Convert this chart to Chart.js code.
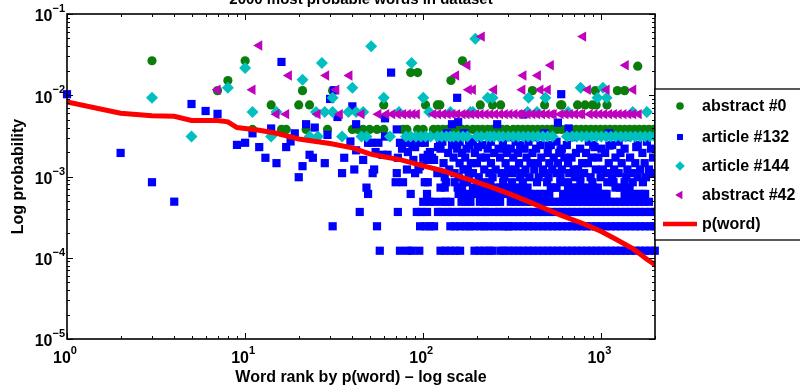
<!DOCTYPE html>
<html>
<head>
<meta charset="utf-8">
<script src="https://cdn.jsdelivr.net/npm/chart.js@4.4.0/dist/chart.umd.min.js"></script>
<style>
  html, body { margin: 0; padding: 0; background: #fff; }
  canvas { display: block; }
</style>
</head>
<body>
<canvas id="chart" width="800" height="390"></canvas>
<script>
// ── TEXT & AXES ─────────────────────────────────────
const TITLE = '2000 most probable words in dataset';
const X_TITLE = 'Word rank by p(word) \u2013 log scale';
const Y_TITLE = 'Log probability';
const X_MIN = 1, X_MAX = 2000;
const Y_MIN = 1e-5, Y_MAX = 1e-1;
const X_TICKS = [1, 10, 100, 1000];
const X_TICK_EXP = ['0', '1', '2', '3'];
const Y_TICKS = [1e-5, 1e-4, 1e-3, 1e-2, 1e-1];
const Y_TICK_EXP = ['\u22125', '\u22124', '\u22123', '\u22122', '\u22121'];
const MINOR = [2, 3, 4, 5, 6, 7, 8, 9];
const SERIES_NAMES = ['abstract #0', 'article #132', 'article #144', 'abstract #42', 'p(word)'];

// ── p(word) curve ───────────────────────────────────
const PWORD_RANK = [1, 2, 3, 4, 5, 7, 8, 9, 10, 12, 15, 20, 25, 30, 40, 50, 60, 75, 100, 130, 160, 200, 250, 300, 400, 500, 600, 800, 1000, 1200, 1500, 1800, 2000];
const PWORD_PROB = [8.3e-3, 6.0e-3, 5.6e-3, 5.5e-3, 4.9e-3, 4.9e-3, 4.7e-3, 4.0e-3, 3.9e-3, 3.7e-3, 3.4e-3, 2.9e-3, 2.7e-3, 2.55e-3, 2.25e-3, 1.9e-3, 1.75e-3, 1.6e-3, 1.35e-3, 1.17e-3, 1.0e-3, 8.5e-4, 7.2e-4, 6.2e-4, 4.8e-4, 3.9e-4, 3.3e-4, 2.6e-4, 2.1e-4, 1.7e-4, 1.3e-4, 9.6e-5, 8.2e-5];

// ── abstract #0 (green) ─────────────────────────────
const ABS0_POINTS = [
  [3, 2.66e-2], [10, 2.66e-2], [166, 2.66e-2], [1600, 2.28e-2], [85, 1.9e-2], [93, 1.9e-2],
  [8, 1.52e-2], [143, 1.52e-2],
  [7, 1.14e-2], [21, 1.14e-2], [31, 1.14e-2], [410, 1.14e-2], [925, 1.14e-2], [1230, 1.14e-2], [1350, 1.14e-2],
  [14, 7.6e-3], [20, 7.6e-3], [23, 7.6e-3], [60, 7.6e-3], [103, 7.6e-3], [120, 7.6e-3], [124, 7.6e-3],
  [209, 7.6e-3], [245, 7.6e-3], [272, 7.6e-3], [480, 7.6e-3], [590, 7.6e-3], [600, 7.6e-3], [735, 7.6e-3],
  [810, 7.6e-3], [890, 7.6e-3], [935, 7.6e-3], [1075, 7.6e-3]
];
const ABS0_BAND_PROB = 3.8e-3;
const ABS0_BAND_RANKS = [11, 16, 17, 22, 29, 40, 43, 46, 50, 55, 60, 77, 81, 93, 100, 114, 121, 129, 137, 146, 155, 165, 176, 190, 202, 215, 230, 245, 260, 277, 295, 320, 340, 362, 386, 411, 438, 466, 496, 528, 562, 598, 637, 678, 722, 769, 819, 872, 928, 988, 1052, 1120, 1193, 1270, 1352, 1440, 1533, 1632, 1738, 1850, 1970];

// ── article #132 (blue) ─────────────────────────────
const A132_POINTS = [
  [1, 1.03e-2], [2, 1.95e-3], [3, 8.5e-4], [4, 4.9e-4], [5, 7.8e-3], [6, 6.4e-3], [7, 5.9e-3],
  [9, 2.45e-3], [10, 2.6e-3], [11, 3.4e-3], [12, 2.3e-3], [13, 1.7e-3], [14, 3.9e-3], [15, 1.46e-3],
  [16, 2.57e-2], [17, 2.3e-3], [18, 2.7e-3], [19, 3.4e-3], [20, 9.8e-4], [21, 1.34e-3], [22, 4.4e-3],
  [23, 1.85e-3], [24, 1.7e-3], [24.6, 4.0e-3], [28, 1.46e-3], [29, 3.25e-3], [30, 9.0e-3],
  [31.5, 1.15e-2], [33, 5.4e-3], [35, 1.1e-3], [36, 1.7e-3], [39, 2.7e-3], [40, 7.3e-3], [41, 1.22e-3],
  [42, 2.1e-3], [42, 4.4e-3], [46, 1.6e-3], [49, 2.6e-3], [51, 2.6e-3], [52, 1.1e-3], [53, 1.22e-3],
  [54, 2.0e-3], [56, 2.6e-3], [59, 1.85e-3], [61, 5.2e-3], [61, 3.1e-3], [63, 1.85e-3], [66, 1.9e-2],
  [70, 8.5e-4], [71, 1.1e-3], [71, 3.8e-3], [72, 1.7e-3], [74, 2.6e-3], [76, 2.2e-3], [77, 8.5e-4],
  [79, 2.6e-3], [81, 1.22e-3], [82, 2.0e-3], [86, 2.6e-3], [87, 2.4e-3], [88, 1.6e-3], [90, 2.3e-3],
  [90, 1.1e-3], [94, 1.22e-3], [96, 1.34e-3], [96, 2.6e-3], [100, 1.7e-3], [102, 8.5e-4], [102, 2.6e-3],
  [105, 1.6e-3], [106, 1.85e-3], [106, 8.5e-4], [109, 2.0e-3], [112, 1.7e-3], [115, 1.6e-3], [120, 1.1e-3],
  [121, 2.3e-3], [124, 2.6e-3],
  [136, 3.4e-3], [145, 4.4e-3], [155, 9.3e-3], [157, 4.7e-3], [181, 2.8e-3], [203, 2.3e-3], [260, 4.4e-3],
  [290, 2.2e-3], [365, 5.8e-3], [505, 2.4e-3], [570, 4.6e-3], [590, 2.1e-3], [595, 1.03e-2], [655, 3.9e-3],
  [915, 2.3e-3], [1110, 2.4e-3], [1570, 2.3e-3]
];
// count levels (1 word = 1.22e-4) and the ranks found on each level
const A132_LEVELS = [1.22e-4, 2.44e-4, 3.66e-4, 4.88e-4, 6.1e-4, 7.3e-4, 8.5e-4, 9.8e-4, 1.1e-3, 1.22e-3, 1.46e-3, 1.71e-3, 1.95e-3, 2.2e-3, 2.44e-3, 2.68e-3, 3.05e-3, 3.4e-3];
const A132_LEVEL_RANKS = [
  [57, 74, 82, 86, 95, 125, 133, 142, 151, 161, 194, 207, 220, 235, 245, 272, 283, 302, 321, 342, 364, 388, 413, 440, 469, 499, 532, 566, 603, 642, 684, 728, 776, 826, 880, 937, 998, 1063, 1132, 1205, 1284, 1367, 1456, 1550, 1651, 1758, 1872, 1994],
  [31, 55, 96, 103, 109, 115, 142, 151, 161, 173, 182, 194, 210, 220, 235, 250, 266, 283, 296, 302, 321, 342, 364, 388, 413, 440, 469, 499, 532, 566, 603, 642, 684, 728, 776, 826, 880, 937, 998, 1063, 1132, 1205, 1284, 1367, 1456, 1550, 1651, 1758, 1872, 1994],
  [44, 72, 92, 97, 105, 121, 127, 137, 144, 158, 166, 175, 186, 198, 210, 222, 230, 253, 266, 283, 302, 321, 342, 364, 388, 413, 440, 469, 499, 532, 566, 603, 642, 684, 728, 776, 826, 880, 937, 998, 1063, 1132, 1205, 1284, 1367, 1456, 1550, 1651, 1758, 1872, 1994],
  [100, 109, 115, 127, 134, 142, 164, 173, 184, 208, 220, 235, 245, 258, 270, 310, 330, 352, 375, 400, 426, 454, 484, 516, 550, 586, 624, 665, 700, 735, 783, 834, 880, 915, 950, 985, 1050, 1118, 1190, 1268, 1350, 1438, 1532, 1632, 1738, 1850],
  [49, 85, 105, 158, 168, 178, 190, 202, 215, 228, 242, 258, 275, 292, 310, 335, 355, 378, 400, 425, 452, 480, 510, 610, 645, 685, 725, 770, 815, 865, 915, 970, 1030, 1070, 1350, 1430, 1520, 1610, 1700, 1760],
  [48, 125, 132, 156, 165, 190, 200, 212, 225, 240, 255, 270, 288, 305, 325, 345, 365, 385, 520, 545, 560, 650, 680, 715, 750, 790, 850, 900, 955, 1200, 1270, 1350, 1440],
  [134, 150, 168, 176, 216, 238, 281, 315, 362, 435, 496, 588, 650, 762, 890, 1080, 1170, 1350, 1500, 1710],
  [132, 158, 180, 205, 245, 285, 350, 395, 445, 505, 590, 710, 760, 870, 990, 1150, 1380, 1600, 1780],
  [150, 190, 235, 275, 315, 360, 480, 560, 660, 800, 1080, 1250, 1500, 1900],
  [140, 168, 178, 220, 255, 300, 330, 375, 420, 470, 530, 600, 700, 740, 930, 1020, 1180, 1400, 1650, 1850],
  [130, 160, 185, 200, 240, 290, 345, 400, 440, 510, 570, 650, 780, 840, 1100, 1300, 1550, 1750],
  [148, 172, 210, 225, 270, 320, 380, 460, 540, 620, 680, 880, 960, 1200, 1450, 1950],
  [138, 165, 195, 250, 295, 340, 410, 500, 580, 720, 820, 1050, 1280, 1700],
  [125, 155, 175, 230, 265, 310, 370, 430, 600, 760, 1000, 1350, 1900],
  [145, 182, 215, 280, 350, 455, 520, 640, 900, 1150, 1600],
  [128, 160, 190, 240, 330, 390, 560, 850, 1250, 1800],
  [150, 205, 300, 420, 700, 1400],
  [170, 480, 1100]
];

// ── article #144 (cyan) ─────────────────────────────
const A144_POINTS = [
  [196, 4.96e-2], [51, 4.0e-2], [27, 2.5e-2], [86, 2.5e-2], [10, 2.17e-2], [21, 1.55e-2],
  [8, 1.24e-2], [40, 1.24e-2], [765, 1.24e-2], [1020, 1.24e-2],
  [3, 9.3e-3], [31, 9.3e-3], [60, 9.3e-3], [100, 9.3e-3], [230, 9.3e-3], [245, 9.3e-3], [390, 9.3e-3],
  [485, 9.3e-3], [950, 9.3e-3], [1070, 9.3e-3],
  [11, 6.2e-3], [15, 6.2e-3], [25, 6.2e-3], [28, 6.2e-3], [31, 6.2e-3], [38, 6.2e-3], [42, 6.2e-3],
  [46, 6.2e-3], [73, 6.2e-3], [108, 6.2e-3], [142, 6.2e-3], [184, 6.2e-3], [190, 6.2e-3], [385, 6.2e-3],
  [435, 6.2e-3], [650, 6.2e-3], [1500, 6.2e-3], [1800, 6.2e-3]
];
const A144_BAND_PROB = 3.1e-3;
const A144_BAND_RANKS = [5, 14, 23, 25.6, 35, 45, 48, 65, 80, 85, 91, 97, 103, 110, 120, 127, 135, 142, 148, 157, 167, 177, 200, 212, 228, 238, 250, 266, 280, 300, 320, 342, 364, 388, 413, 440, 469, 499, 532, 640, 684, 728, 776, 826, 880, 937, 998, 1063, 1132, 1205, 1284, 1367, 1456, 1550, 1651, 1758, 1872, 1994];

// ── abstract #42 (magenta) ──────────────────────────
const ABS42_POINTS = [
  [213, 5.27e-2], [790, 5.27e-2], [12, 4.1e-2],
  [177, 2.34e-2], [520, 2.34e-2], [1370, 2.34e-2],
  [17.6, 1.75e-2], [28.5, 1.75e-2], [38.5, 1.75e-2], [153, 1.75e-2], [365, 1.75e-2], [440, 1.75e-2],
  [7, 1.17e-2], [11, 1.17e-2], [32.5, 1.17e-2], [180, 1.17e-2], [190, 1.17e-2], [250, 1.17e-2],
  [360, 1.17e-2], [455, 1.17e-2], [500, 1.17e-2], [840, 1.17e-2], [1070, 1.17e-2], [1510, 1.17e-2]
];
const ABS42_BAND_PROB = 5.85e-3;
const ABS42_BAND_RANKS = [15, 17, 25.5, 34, 45, 56, 62, 67, 72, 77, 82, 87, 92, 114, 121, 129, 137, 146, 155, 166, 175, 186, 198, 210, 224, 238, 253, 270, 287, 305, 325, 346, 360, 385, 410, 436, 464, 494, 525, 540, 590, 628, 668, 711, 757, 780, 860, 915, 974, 1037, 1104, 1175, 1251, 1332, 1418, 1509, 1620];

// ── styles ──────────────────────────────────────────
const COLORS = ['#0b7d0b', '#0000ff', '#00bfbf', '#bf00bf', '#ff0000'];
const FONT = '"Liberation Sans", Arial, sans-serif';

const pts = arr => arr.map(([x, y]) => ({ x, y }));
const band = (ranks, p) => ranks.map(x => ({ x, y: p }));

const abs0Data = pts(ABS0_POINTS).concat(band(ABS0_BAND_RANKS, ABS0_BAND_PROB));
let a132Data = pts(A132_POINTS);
A132_LEVELS.forEach((p, i) => { a132Data = a132Data.concat(band(A132_LEVEL_RANKS[i], p)); });
const a144Data = pts(A144_POINTS).concat(band(A144_BAND_RANKS, A144_BAND_PROB));
const abs42Data = pts(ABS42_POINTS).concat(band(ABS42_BAND_RANKS, ABS42_BAND_PROB));
const pwordData = PWORD_RANK.map((x, i) => ({ x, y: PWORD_PROB[i] }));

const MARKERS = [
  { style: 'circle', r: 4.6, rot: 0, legendR: 3.8 },
  { style: 'rect', r: 5.8, rot: 0, legendR: 4.2 },
  { style: 'rectRot', r: 6, rot: 0, legendR: 4.8 },
  { style: 'triangle', r: 6, rot: -90, legendR: 4.8 }
];

function scatterSet(i, data) {
  const m = MARKERS[i];
  return {
    label: SERIES_NAMES[i], data, showLine: false, clip: false, order: 4 - i,
    pointStyle: m.style, pointRadius: m.r, pointRotation: m.rot,
    pointBackgroundColor: COLORS[i], pointBorderColor: COLORS[i], pointBorderWidth: 0,
    pointHoverRadius: m.r
  };
}

// ── frame, ticks, labels and legend ─────────────────
const decor = {
  id: 'decor',
  beforeDraw(chart) {
    const c = chart.ctx;
    c.save(); c.fillStyle = '#fff'; c.fillRect(0, 0, chart.width, chart.height); c.restore();
  },
  afterDraw(chart) {
    const c = chart.ctx, a = chart.chartArea;
    const sx = chart.scales.x, sy = chart.scales.y;
    c.save();

    // tick marks on all four sides, pointing inward
    c.strokeStyle = '#000'; c.lineWidth = 1;
    c.beginPath();
    X_TICKS.forEach(d => {
      [1].concat(MINOR).forEach(m => {
        const v = d * m;
        if (v > X_MAX) return;
        const px = Math.round(sx.getPixelForValue(v)) + 0.5, len = m === 1 ? 6 : 3;
        c.moveTo(px, a.bottom); c.lineTo(px, a.bottom - len);
        c.moveTo(px, a.top); c.lineTo(px, a.top + len);
      });
    });
    Y_TICKS.forEach(d => {
      [1].concat(MINOR).forEach(m => {
        const v = d * m;
        if (v > Y_MAX) return;
        const py = Math.round(sy.getPixelForValue(v)) + 0.5, len = m === 1 ? 6 : 3;
        c.moveTo(a.left, py); c.lineTo(a.left + len, py);
        c.moveTo(a.right, py); c.lineTo(a.right - len, py);
      });
    });
    c.stroke();

    c.lineWidth = 1.6;
    c.strokeRect(a.left, a.top, a.right - a.left, a.bottom - a.top);

    // tick labels 10^n
    c.fillStyle = '#000'; c.textBaseline = 'middle';
    const big = 'bold 16px ' + FONT, small = 'bold 11px ' + FONT;
    X_TICKS.forEach((v, i) => {
      const px = sx.getPixelForValue(v);
      c.font = big; const w1 = c.measureText('10').width;
      c.font = small; const w2 = c.measureText(X_TICK_EXP[i]).width;
      const x0 = px - (w1 + w2) / 2 - 2;
      c.textAlign = 'left';
      c.font = big; c.fillText('10', x0, 359);
      c.font = small; c.fillText(X_TICK_EXP[i], x0 + w1, 351);
    });
    Y_TICKS.forEach((v, i) => {
      const py = sy.getPixelForValue(v);
      c.font = small; const w2 = c.measureText(Y_TICK_EXP[i]).width;
      c.textAlign = 'right';
      c.fillText(Y_TICK_EXP[i], 65, py - 5);
      c.font = big; c.fillText('10', 65 - w2, py + 3);
    });

    // axis titles and (clipped) title
    c.font = 'bold 16px ' + FONT; c.textAlign = 'center';
    c.fillText(X_TITLE, (a.left + a.right) / 2, 378);
    c.save(); c.translate(19, (a.top + a.bottom) / 2); c.rotate(-Math.PI / 2);
    c.fillText(Y_TITLE, 0, 0); c.restore();
    c.font = 'bold 15px ' + FONT; c.textBaseline = 'alphabetic';
    c.fillText(TITLE, (a.left + a.right) / 2, 3.5);

    // legend box outside the plot on the right
    const lx = a.right, ly = 89, lw = 160, lh = 151;
    c.fillStyle = '#fff'; c.fillRect(lx, ly, lw, lh);
    c.strokeStyle = '#000'; c.lineWidth = 1.3; c.strokeRect(lx, ly, lw, lh);
    const rowsY = [106, 137, 166, 195, 224];
    c.font = 'bold 16px ' + FONT; c.textAlign = 'left'; c.textBaseline = 'middle';
    SERIES_NAMES.forEach((name, i) => {
      const y = rowsY[i];
      if (i < 4) {
        const m = MARKERS[i];
        c.fillStyle = COLORS[i]; c.strokeStyle = COLORS[i];
        Chart.helpers.drawPoint(c, { pointStyle: m.style, radius: m.legendR, rotation: m.rot, borderWidth: 0 }, 680, y);
      } else {
        c.strokeStyle = COLORS[i]; c.lineWidth = 4.5;
        c.beginPath(); c.moveTo(663, y); c.lineTo(697, y); c.stroke();
      }
      c.fillStyle = '#000';
      c.fillText(name, 702, y + 1);
    });
    c.restore();
  }
};

new Chart(document.getElementById('chart'), {
  type: 'scatter',
  data: {
    datasets: [
      {
        type: 'line', label: SERIES_NAMES[4], data: pwordData, order: 0,
        borderColor: COLORS[4], borderWidth: 5, pointRadius: 0, fill: false, tension: 0
      },
      scatterSet(3, abs42Data),
      scatterSet(2, a144Data),
      scatterSet(1, a132Data),
      scatterSet(0, abs0Data)
    ]
  },
  options: {
    responsive: false, animation: false, events: [],
    layout: { padding: { left: 67, right: 145, top: 14, bottom: 51 } },
    plugins: { legend: { display: false }, title: { display: false }, tooltip: { enabled: false } },
    scales: {
      x: { type: 'logarithmic', min: X_MIN, max: X_MAX, display: false },
      y: { type: 'logarithmic', min: Y_MIN, max: Y_MAX, display: false }
    }
  },
  plugins: [decor]
});
</script>
</body>
</html>
